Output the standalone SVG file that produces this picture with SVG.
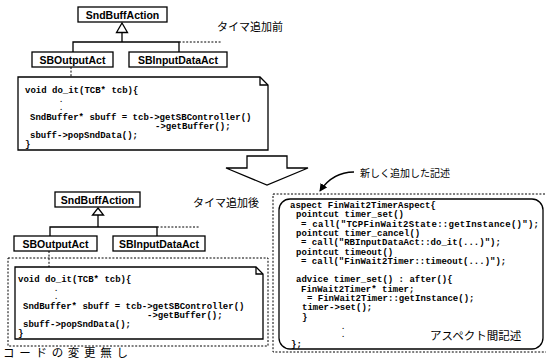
<svg xmlns="http://www.w3.org/2000/svg" width="546" height="362" viewBox="0 0 546 362">
<style>
.box{fill:#fff;stroke:#000;stroke-width:1.3}
.ln{fill:none;stroke:#000;stroke-width:1.3}
.dot{fill:none;stroke:#000;stroke-width:1;stroke-dasharray:2,1.6}
.lbl{font-family:"Liberation Sans",Arial,sans-serif;font-weight:bold;font-size:10.5px;text-anchor:middle}
.code{font-family:"Liberation Mono","Courier New",monospace;font-weight:bold;font-size:9px}
.dt{font-size:7px}
.jp{font-family:"Noto Sans CJK JP",sans-serif;font-size:11px}
</style>
<defs>
<marker id="ah" markerWidth="8" markerHeight="8" refX="7" refY="4" orient="auto" markerUnits="userSpaceOnUse">
<path d="M0,0 L8,4 L0,8 Z" fill="#000"/>
</marker>
</defs>

<g id="connectors">
  <path class="ln" d="M122,33 V42" stroke-width="2"/>
  <path class="ln" d="M73,52 V42 H179 V52"/>
  <path class="dot" d="M179,42 H221"/>
  <path class="dot" d="M71,67 V77"/>
  <path class="ln" d="M98,215 V227" stroke-width="2"/>
  <path class="ln" d="M50,236 V227 H157 V236"/>
  <path class="dot" d="M157,227 H200"/>
  <path class="dot" d="M49,251 V267"/>
  <path class="ln" d="M354,172 C340,172 328,179 320,191" marker-end="url(#ah)"/>
</g>

<g id="top-label"><text class="jp" x="217" y="31">タイマ追加前</text></g>

<g id="top-SndBuffAction">
  <rect class="box" x="78" y="7" width="89" height="15"/>
  <text class="lbl" x="122.5" y="18.5">SndBuffAction</text>
  <path class="box" d="M122,23 L127.5,32.5 H116.5 Z"/>
</g>
<g id="top-SBOutputAct">
  <rect class="box" x="32" y="52" width="81" height="15"/>
  <text class="lbl" x="72.5" y="63.5">SBOutputAct</text>
</g>
<g id="top-SBInputDataAct">
  <rect class="box" x="129" y="52" width="98" height="15"/>
  <text class="lbl" x="178" y="63.5">SBInputDataAct</text>
</g>
<g id="top-note">
  <path class="box" d="M18,77 H260 L268,85 V150 H18 Z"/>
  <path class="ln" d="M260,77 V85 H268" stroke-width="1"/>
  <text class="code" x="25" y="93">void do_it(TCB* tcb){</text>
  <text class="code dt" x="59" y="102">.</text>
  <text class="code dt" x="59" y="110">.</text>
  <text class="code" x="30" y="120">SndBuffer* sbuff = tcb-&gt;getSBController()</text>
  <text class="code" x="155" y="129">-&gt;getBuffer();</text>
  <text class="code" x="30" y="138">sbuff-&gt;popSndData();</text>
  <text class="code" x="25" y="147">}</text>
</g>

<g id="big-arrow">
  <path class="box" d="M247,156 H287 V168 H308 L267,185 L226,168 H247 Z"/>
</g>

<g id="bottom-label"><text class="jp" x="193" y="207">タイマ追加後</text></g>

<g id="bottom-SndBuffAction">
  <rect class="box" x="55" y="192" width="85" height="15"/>
  <text class="lbl" x="97.5" y="203.5">SndBuffAction</text>
  <path class="box" d="M98,208 L103.5,215 H92.5 Z"/>
</g>
<g id="bottom-SBOutputAct">
  <rect class="box" x="14" y="236" width="83" height="15"/>
  <text class="lbl" x="55.5" y="247.5">SBOutputAct</text>
</g>
<g id="bottom-SBInputDataAct">
  <rect class="box" x="113" y="236" width="92" height="15"/>
  <text class="lbl" x="159" y="247.5">SBInputDataAct</text>
</g>
<g id="bottom-code">
  <rect class="dot" x="8" y="258" width="260" height="88"/>
  <path class="box" d="M15,267 H256 L263,274 V339 H15 Z"/>
  <path class="ln" d="M256,267 V274 H263" stroke-width="1"/>
  <text class="code" x="18" y="282">void do_it(TCB* tcb){</text>
  <text class="code dt" x="54" y="291">.</text>
  <text class="code dt" x="54" y="299">.</text>
  <text class="code" x="23" y="309">SndBuffer* sbuff = tcb-&gt;getSBController()</text>
  <text class="code" x="147" y="318">-&gt;getBuffer();</text>
  <text class="code" x="23" y="327">sbuff-&gt;popSndData();</text>
  <text class="code" x="18" y="336">}</text>
</g>
<g id="unchanged-label"><text class="jp" x="3" y="357" style="font-size:11.5px" textLength="125" lengthAdjust="spacing">コードの変更無し</text></g>

<g id="new-label"><text class="jp" x="360" y="177" style="font-size:10px">新しく追加した記述</text></g>

<g id="aspect">
  <rect class="dot" x="273" y="194" width="276" height="158"/>
  <rect class="box" x="279" y="199" width="264" height="150" rx="11"/>
  <text class="code" x="290" y="208">aspect FinWait2TimerAspect{</text>
  <text class="code" x="296" y="217.3">pointcut timer_set()</text>
  <text class="code" x="301" y="226.6" textLength="238" lengthAdjust="spacing">= call("TCPFinWait2State::getInstance()");</text>
  <text class="code" x="296" y="235.9">pointcut timer_cancel()</text>
  <text class="code" x="301" y="245.2">= call("RBInputDataAct::do_it(...)");</text>
  <text class="code" x="296" y="254.5">pointcut timeout()</text>
  <text class="code" x="301" y="263.8">= call("FinWait2Timer::timeout(...)");</text>
  <text class="code" x="296" y="282.4">advice timer_set() : after(){</text>
  <text class="code" x="301" y="291.7">FinWait2Timer* timer;</text>
  <text class="code" x="307" y="301">= FinWait2Timer::getInstance();</text>
  <text class="code" x="302" y="310.3">timer-&gt;set();</text>
  <text class="code" x="302" y="319.6">}</text>
  <text class="code dt" x="341" y="328.5">.</text>
  <text class="code dt" x="341" y="337">.</text>
  <text class="code" x="291" y="347">};</text>
  <text class="jp" x="430" y="340" style="font-size:11.5px">アスペクト間記述</text>
</g>
</svg>
